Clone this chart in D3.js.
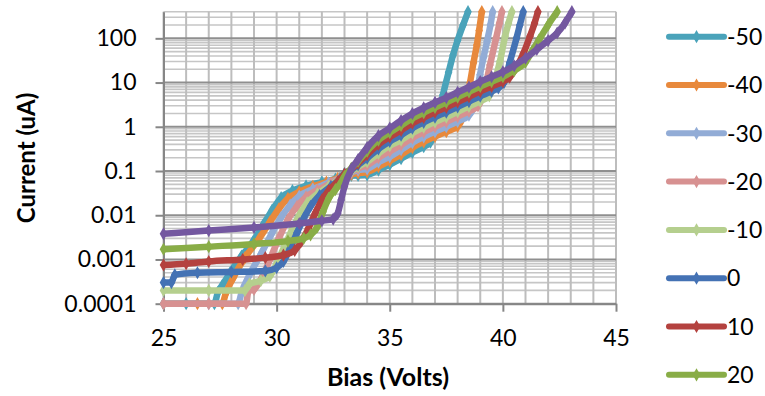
<!DOCTYPE html>
<html>
<head>
<meta charset="utf-8">
<script src="https://cdn.jsdelivr.net/npm/d3@7"></script>
<style>
  body { margin: 0; background: #fff; }
  text { font-family: Lato, "Open Sans", sans-serif; fill: #000; }
</style>
</head>
<body>
<div id="chart"></div>
<script>
// temperature of each sweep (legend labels)
const seriesNames = ["-50", "-40", "-30", "-20", "-10", "0", "10", "20", "30"];
const seriesColors = ["#4aa3ba", "#e8893c", "#92acd6", "#d79191", "#b5cf8e", "#4472b4", "#b4423f", "#89ad47", "#7458a0"];

// [bias (V), current (uA)]
const sM50 = [[25,1e-4],[26,1e-4],[27.25,1e-4],[27.4,1.8e-4],[27.6,2.6e-4],[27.94,5e-4],[28.45,1.2e-3],[28.95,2.5e-3],[29.4,6e-3],[29.8,0.013],[30.2,0.025],[30.7,0.036],[31.3,0.046],[32,0.056],[32.6,0.066],[33,0.074],[33.3,0.079],[33.6,0.08],[34,0.082],[34.5,0.105],[35,0.14],[35.5,0.19],[36,0.263],[36.5,0.355],[36.8,0.447],[37.05,1],[37.35,5.25],[37.6,17],[37.8,42],[38,90],[38.24,200],[38.46,400]];
const sM40 = [[25,1e-4],[26.5,1e-4],[27.6,1e-4],[27.75,1.7e-4],[28.1,4e-4],[28.6,1.1e-3],[29.2,2.8e-3],[29.7,7e-3],[30.1,0.014],[30.5,0.024],[31,0.034],[31.6,0.045],[32.2,0.056],[32.7,0.068],[33,0.077],[33.3,0.084],[33.6,0.09],[34,0.095],[34.5,0.126],[35,0.17],[35.5,0.234],[36,0.339],[36.5,0.457],[37,0.603],[37.5,0.776],[38,1.02],[38.25,1.78],[38.55,10],[38.7,28],[38.85,71],[38.95,150],[39.07,400]];
const sM30 = [[25,1e-4],[27,1e-4],[28.3,1e-4],[28.45,1.8e-4],[28.8,4.5e-4],[29.3,1.3e-3],[29.8,4e-3],[30.2,9e-3],[30.6,0.017],[31,0.027],[31.6,0.039],[32.3,0.054],[32.8,0.07],[33,0.08],[33.3,0.093],[33.6,0.105],[34,0.112],[34.5,0.158],[35,0.21],[35.5,0.302],[36,0.437],[36.5,0.589],[37,0.776],[37.5,1],[38,1.32],[38.5,1.82],[38.75,3.16],[38.99,15.1],[39.15,38],[39.3,85],[39.45,200],[39.55,400]];
const sM20 = [[25,1e-4],[27,1e-4],[28.65,1e-4],[28.75,1.9e-4],[29,2.1e-4],[29.3,3.5e-4],[29.7,1e-3],[30.1,3e-3],[30.5,8e-3],[30.9,0.016],[31.3,0.026],[31.8,0.037],[32.4,0.053],[32.8,0.07],[33,0.084],[33.3,0.097],[33.6,0.115],[34,0.135],[34.5,0.2],[35,0.28],[35.5,0.389],[36,0.562],[36.5,0.759],[37,1],[37.5,1.29],[38,1.7],[38.5,2.24],[38.9,2.95],[39.15,5.6],[39.43,25],[39.7,100],[39.85,220],[39.96,400]];
const sM10 = [[25,2e-4],[27,2e-4],[28.6,2e-4],[28.8,2.8e-4],[29.3,3.3e-4],[29.7,4.2e-4],[30,8e-4],[30.35,2e-3],[30.7,5e-3],[31,0.01],[31.35,0.019],[31.8,0.03],[32.3,0.045],[32.8,0.068],[33,0.088],[33.3,0.1],[33.6,0.126],[34,0.162],[34.5,0.251],[35,0.372],[35.5,0.501],[36,0.724],[36.5,0.977],[37,1.29],[37.5,1.66],[38,2.19],[38.5,2.88],[39,3.8],[39.4,5],[39.65,11.2],[39.87,30.2],[40.1,112],[40.25,220],[40.4,400]];
const sP0 = [[25,3e-4],[25.35,3e-4],[25.5,4.5e-4],[26.5,5e-4],[28,5.2e-4],[29.5,5.5e-4],[30,6.5e-4],[30.3,9e-4],[30.6,1.8e-3],[30.9,4e-3],[31.2,8.5e-3],[31.5,0.016],[31.9,0.028],[32.4,0.045],[32.8,0.066],[33,0.088],[33.3,0.105],[33.6,0.138],[34,0.195],[34.5,0.316],[35,0.468],[35.5,0.646],[36,0.933],[36.5,1.26],[37,1.66],[37.5,2.14],[38,2.82],[38.5,3.72],[39,4.9],[39.5,6.31],[39.8,7.59],[40.05,10],[40.3,28.2],[40.6,100],[40.75,200],[40.9,400]];
const sP10 = [[25,7.5e-4],[26,8e-4],[27,9e-4],[28.5,1e-3],[29.5,1.1e-3],[30.3,1.25e-3],[30.8,1.6e-3],[31.1,2.6e-3],[31.4,5e-3],[31.7,0.011],[32,0.022],[32.3,0.036],[32.7,0.058],[33,0.085],[33.3,0.11],[33.6,0.151],[34,0.234],[34.5,0.4],[35,0.59],[35.5,0.83],[36,1.2],[36.5,1.62],[37,2.14],[37.5,2.75],[38,3.63],[38.5,4.79],[39,6.31],[39.5,8.13],[40,10.5],[40.3,13.2],[40.6,22.4],[40.9,44.7],[41.2,112],[41.4,220],[41.55,400]];
const sP20 = [[25,1.7e-3],[27,1.95e-3],[29,2.25e-3],[30.5,2.6e-3],[31.2,3e-3],[31.5,3.6e-3],[31.8,5.5e-3],[32.05,0.012],[32.3,0.024],[32.6,0.038],[32.85,0.055],[33,0.075],[33.3,0.115],[33.6,0.166],[34,0.282],[34.5,0.5],[35,0.74],[35.5,1.07],[36,1.55],[36.5,2.09],[37,2.75],[37.5,3.55],[38,4.68],[38.5,6.17],[39,8.13],[39.5,10.5],[40,13.5],[40.5,18.6],[41,28.8],[41.3,52],[41.6,93],[42,200],[42.4,400]];
const sP30 = [[25,3.8e-3],[27,4.5e-3],[29,5.3e-3],[31,6.5e-3],[32,7.5e-3],[32.5,8.2e-3],[32.7,0.011],[32.85,0.022],[33,0.045],[33.3,0.11],[33.6,0.182],[34,0.339],[34.5,0.631],[35,0.933],[35.5,1.38],[36,2],[36.5,2.69],[37,3.55],[37.5,4.57],[38,6.03],[38.5,7.94],[39,10.5],[39.5,13.5],[40,17.4],[40.5,24],[41,35.5],[41.5,56],[42,89],[42.4,132],[42.75,224],[43.05,400]];
const seriesData = [sM50, sM40, sM30, sM20, sM10, sP0, sP10, sP20, sP30];

const xTicks = [25, 30, 35, 40, 45];
const yTicks = [0.0001, 0.001, 0.01, 0.1, 1, 10, 100];
const yTickLabels = ["0.0001", "0.001", "0.01", "0.1", "1", "10", "100"];
const xDomain = [25, 45];
const yDomain = [0.0001, 400];

const width = 765, height = 396;
const margin = { top: 11.7, right: 149, bottom: 92.3, left: 163.5 };

const svg = d3.select("#chart")
              .append("svg")
              .attr("width", width)
              .attr("height", height);

const x = d3.scaleLinear()
            .domain(xDomain)
            .range([margin.left, width - margin.right]);

const y = d3.scaleLog()
            .domain(yDomain)
            .range([height - margin.bottom, margin.top]);

const isDecade = v => Math.abs(Math.log10(v) - Math.round(Math.log10(v))) < 1e-9;

// gridlines: minor horizontal, vertical every volt, then decade lines
const grid = svg.append("g");
grid.selectAll(".hminor")
    .data(y.ticks().filter(v => !isDecade(v)))
    .join("line")
    .attr("x1", x(xDomain[0])).attr("x2", x(xDomain[1]))
    .attr("y1", d => y(d)).attr("y2", d => y(d))
    .attr("stroke", "#c6c6c6").attr("stroke-width", 1.6);

grid.selectAll(".vgrid")
    .data(x.ticks(20))
    .join("line")
    .attr("x1", d => x(d)).attr("x2", d => x(d))
    .attr("y1", y(yDomain[0])).attr("y2", y(yDomain[1]))
    .attr("stroke", "#bdbdbd").attr("stroke-width", 2);

grid.selectAll(".hmajor")
    .data(yTicks)
    .join("line")
    .attr("x1", x(xDomain[0])).attr("x2", x(xDomain[1]))
    .attr("y1", d => y(d)).attr("y2", d => y(d))
    .attr("stroke", "#8f8f8f").attr("stroke-width", 2);

// axes
const yAxis = g => g.attr("transform", `translate(${margin.left},0)`)
                    .call(d3.axisLeft(y).tickValues(yTicks)
                            .tickFormat((d, i) => yTickLabels[i])
                            .tickSize(8).tickSizeOuter(0).tickPadding(19))
                    .call(g => g.selectAll("line, path").attr("stroke", "#868686").attr("stroke-width", 2))
                    .call(g => g.selectAll("text").attr("font-size", 23).attr("font-family", "Lato, sans-serif"));

const xAxis = g => g.attr("transform", `translate(0,${height - margin.bottom})`)
                    .call(d3.axisBottom(x).tickValues(xTicks)
                            .tickSize(8).tickSizeOuter(0).tickPadding(18))
                    .call(g => g.selectAll("line, path").attr("stroke", "#868686").attr("stroke-width", 2))
                    .call(g => g.selectAll("text").attr("font-size", 23).attr("font-family", "Lato, sans-serif"));

svg.append("g").call(yAxis);
svg.append("g").call(xAxis);

// series
const line = d3.line()
               .x(d => x(d[0]))
               .y(d => y(d[1]))
               .curve(d3.curveMonotoneX);

const diamond = d3.symbol().type(d3.symbolDiamond).size(50);

const plot = svg.append("g");
seriesData.forEach((s, i) => {
  const g = plot.append("g");
  g.append("path")
   .datum(s)
   .attr("fill", "none")
   .attr("stroke", seriesColors[i])
   .attr("stroke-width", 6.5)
   .attr("stroke-linejoin", "round")
   .attr("d", line);
  g.selectAll("path.mk")
   .data(s)
   .join("path")
   .attr("class", "mk")
   .attr("transform", d => `translate(${x(d[0])},${y(d[1])})`)
   .attr("fill", seriesColors[i])
   .attr("d", diamond);
});

// axis titles
svg.append("text")
   .attr("x", 388).attr("y", 386)
   .attr("text-anchor", "middle")
   .attr("font-size", 25).attr("font-weight", "bold")
   .text("Bias (Volts)");

svg.append("text")
   .attr("transform", "translate(35,158) rotate(-90)")
   .attr("text-anchor", "middle")
   .attr("font-size", 24).attr("font-weight", "bold")
   .text("Current (uA)");

// legend (only the first eight entries fit in the frame)
const legend = svg.append("g")
                  .selectAll("g")
                  .data(seriesNames.slice(0, 8))
                  .join("g")
                  .attr("transform", (d, i) => `translate(669,${36.7 + i * 48.3})`);

legend.append("line")
      .attr("x1", 0).attr("x2", 55)
      .attr("stroke", (d, i) => seriesColors[i])
      .attr("stroke-width", 6)
      .attr("stroke-linecap", "round");

legend.append("path")
      .attr("transform", "translate(27.5,0)")
      .attr("fill", (d, i) => seriesColors[i])
      .attr("d", diamond);

legend.append("text")
      .attr("x", 58).attr("dy", "0.36em")
      .attr("font-size", 23)
      .text(d => d);
</script>
</body>
</html>
